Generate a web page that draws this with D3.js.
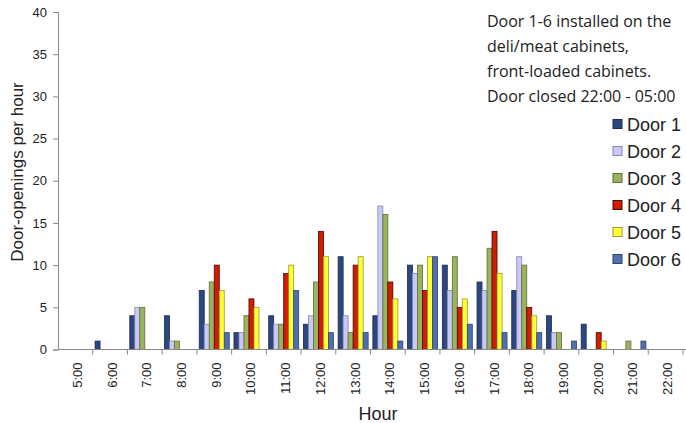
<!DOCTYPE html>
<html>
<head>
<meta charset="utf-8">
<style>
  body { margin: 0; background: #fff; }
  text { font-family: "Liberation Sans", Arial, sans-serif; fill: #222; }
</style>
</head>
<body>
<script src="https://cdnjs.cloudflare.com/ajax/libs/d3/7.8.5/d3.min.js"></script>
<script>

    // hours on the x axis
    var hours = ["5:00", "6:00", "7:00", "8:00", "9:00", "10:00", "11:00", "12:00", "13:00",
        "14:00", "15:00", "16:00", "17:00", "18:00", "19:00", "20:00", "21:00", "22:00"];

    var doors = ["Door 1", "Door 2", "Door 3", "Door 4", "Door 5", "Door 6"];

    // door openings per hour
    var door1 = [0, 1, 4, 4, 7, 2, 4, 3, 11, 4, 10, 10, 8, 7, 4, 3, 0, 0];
    var door2 = [0, 0, 5, 1, 3, 2, 3, 4, 4, 17, 9, 7, 7, 11, 2, 0, 0, 0];
    var door3 = [0, 0, 5, 1, 8, 4, 3, 8, 2, 16, 10, 11, 12, 10, 2, 0, 1, 0];
    var door4 = [0, 0, 0, 0, 10, 6, 9, 14, 10, 8, 7, 5, 14, 5, 0, 2, 0, 0];
    var door5 = [0, 0, 0, 0, 7, 5, 10, 11, 11, 6, 11, 6, 9, 4, 0, 1, 0, 0];
    var door6 = [0, 0, 0, 0, 2, 0, 7, 2, 2, 1, 11, 3, 2, 2, 1, 0, 1, 0];

    var yTicks = [0, 5, 10, 15, 20, 25, 30, 35, 40];

    var noteLines = ["Door 1-6 installed on the", "deli/meat cabinets,",
        "front-loaded cabinets.", "Door closed 22:00 - 05:00"];

    var series = [door1, door2, door3, door4, door5, door6];
    var fills = ["#2c4780", "#c9c9f7", "#9bb25e", "#d41c00", "#ffff33", "#4f6fae"];
    var strokes = ["#1a2a50", "#8888aa", "#5f6f3a", "#400800", "#99993a", "#2f4470"];

    var width = 686, height = 423;
    // plot edges (note: "top" is taken by window.top, so use other names)
    var plotLeft = 58, plotRight = 683, plotTop = 12, plotBottom = 349.5;

    var svg = d3.select("body").append("svg")
        .attr("width", width)
        .attr("height", height);

    var x0 = d3.scaleBand().domain(hours).range([plotLeft, plotRight]);
    var x1 = d3.scaleBand().domain(d3.range(6)).range([0, x0.bandwidth()]).paddingOuter(0.47);
    var y = d3.scaleLinear().domain([0, 40]).range([plotBottom, plotTop]);

    // bars
    var groups = svg.selectAll("g.hour")
        .data(hours)
        .join("g")
        .attr("class", "hour")
        .attr("transform", function (d) { return "translate(" + x0(d) + ",0)"; });

    groups.selectAll("rect")
        .data(function (d, i) {
            return series.map(function (s, k) { return { k: k, v: s[i] }; })
                .filter(function (e) { return e.v > 0; });
        })
        .join("rect")
        .attr("x", function (d) { return x1(d.k); })
        .attr("width", x1.bandwidth())
        .attr("y", function (d) { return y(d.v); })
        .attr("height", function (d) { return plotBottom - y(d.v); })
        .attr("fill", function (d) { return fills[d.k]; })
        .attr("stroke", function (d) { return strokes[d.k]; })
        .attr("stroke-width", 0.8);

    // y axis
    var yAxis = svg.append("g")
        .attr("transform", "translate(" + plotLeft + ",0)")
        .call(d3.axisLeft(y).tickValues(yTicks).tickSize(5).tickPadding(6));
    yAxis.select(".domain").attr("stroke", "#888");
    yAxis.selectAll(".tick line").attr("stroke", "#888");
    yAxis.selectAll(".tick text").style("font-size", "13px").attr("fill", "#222")
        .style("font-family", "Liberation Sans, Arial, sans-serif");

    // x axis: ticks between categories, labels centred
    svg.append("line")
        .attr("x1", plotLeft).attr("x2", width)
        .attr("y1", plotBottom).attr("y2", plotBottom)
        .attr("stroke", "#888");

    svg.selectAll("line.xtick")
        .data(hours)
        .join("line")
        .attr("class", "xtick")
        .attr("x1", function (d) { return x0(d) + x0.bandwidth(); })
        .attr("x2", function (d) { return x0(d) + x0.bandwidth(); })
        .attr("y1", plotBottom).attr("y2", plotBottom + 5)
        .attr("stroke", "#888");

    svg.selectAll("text.xlab")
        .data(hours)
        .join("text")
        .attr("class", "xlab")
        .attr("transform", function (d) {
            return "translate(" + (x0(d) + x0.bandwidth() / 2 + 6.5) + "," + (plotBottom + 13) + ") rotate(-90)";
        })
        .attr("text-anchor", "end")
        .style("font-size", "13px")
        .text(function (d) { return d; });

    // axis titles
    svg.append("text")
        .attr("transform", "translate(23,172) rotate(-90)")
        .attr("text-anchor", "middle")
        .style("font-size", "17px")
        .text("Door-openings per hour");

    svg.append("text")
        .attr("x", 378).attr("y", 420)
        .attr("text-anchor", "middle")
        .style("font-size", "18px")
        .text("Hour");

    // note
    svg.selectAll("text.note")
        .data(noteLines)
        .join("text")
        .attr("class", "note")
        .attr("x", 487)
        .attr("y", function (d, i) { return 27 + i * 25; })
        .style("font-family", "Open Sans, sans-serif")
        .style("font-size", "16px")
        .text(function (d) { return d; });

    // legend
    var legend = svg.selectAll("g.legend")
        .data(doors)
        .join("g")
        .attr("class", "legend")
        .attr("transform", function (d, i) { return "translate(613," + (124 + i * 27) + ")"; });

    legend.append("rect")
        .attr("x", 0).attr("y", -4.5)
        .attr("width", 9).attr("height", 9)
        .attr("fill", function (d, i) { return fills[i]; })
        .attr("stroke", function (d, i) { return strokes[i]; });

    legend.append("text")
        .attr("x", 14).attr("y", 6.5)
        .style("font-size", "18px")
        .text(function (d) { return d; });

</script>
</body>
</html>
